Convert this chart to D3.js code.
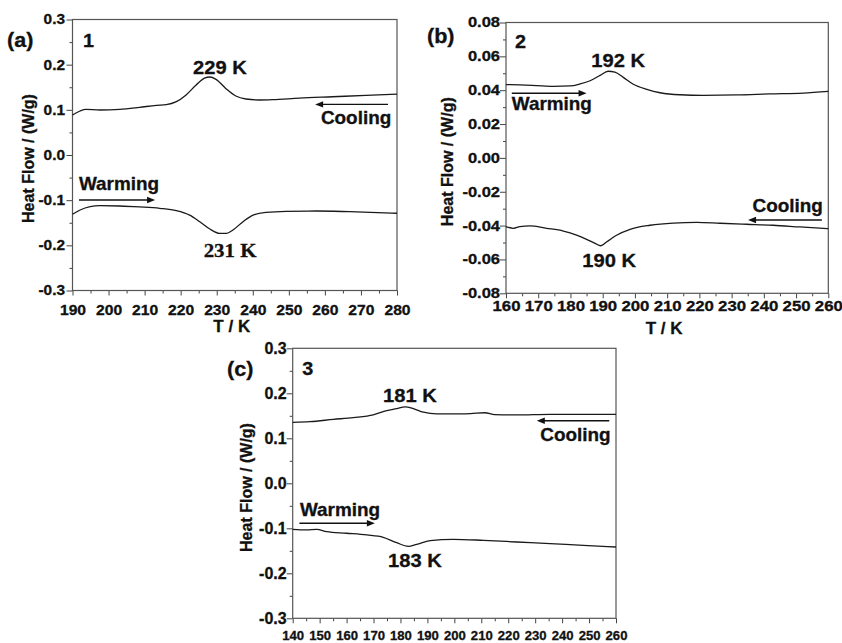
<!DOCTYPE html>
<html>
<head>
<meta charset="utf-8">
<script src="https://cdn.jsdelivr.net/npm/d3@7/dist/d3.min.js"></script>
<style>
  body { margin: 0; background: #fff; }
  text { font-family: "Liberation Sans", Arial, sans-serif; font-weight: bold; fill: #111; stroke: #111; stroke-width: 0.3px; }
</style>
</head>
<body>
<svg id="chart" width="842" height="643"></svg>
<script>
// ---- data: [T / K, heat flow / (W/g)] ----
const cooling1 = [
  [190, 0.0886], [192.1, 0.0974], [193.7, 0.101], [197.6, 0.0996], [203.1, 0.101],
  [208.6, 0.1055], [213.3, 0.110], [216, 0.1114], [218.8, 0.118], [221.5, 0.133],
  [224.3, 0.155], [226.6, 0.170], [228.1, 0.1727], [229.8, 0.1675], [232.5, 0.1475],
  [235.3, 0.1306], [238.1, 0.124], [241.8, 0.1218], [245.5, 0.1225], [252.9, 0.126],
  [262.1, 0.129], [271.4, 0.132], [280, 0.135]
]
const warming1 = [
  [190, -0.1313], [192.1, -0.1218], [194.9, -0.1144], [197.6, -0.1122], [203.1, -0.1129],
  [208.6, -0.115], [214.2, -0.118], [218.8, -0.123], [222.5, -0.133], [225.3, -0.1476],
  [228.1, -0.1638], [230.8, -0.1734], [232.7, -0.1734], [234.5, -0.166], [237.3, -0.1476],
  [240.1, -0.133], [243.7, -0.127], [249.3, -0.1246], [257.6, -0.124], [266.8, -0.1255],
  [280, -0.129]
]
const warming2 = [
  [160, 0.0433], [164.3, 0.0431], [169.5, 0.0427], [174.7, 0.0423], [179.9, 0.0425],
  [183, 0.0437], [186.1, 0.0456], [189.2, 0.0488], [191.7, 0.0512], [193.8, 0.0507],
  [196.4, 0.0476], [199.5, 0.0435], [203.7, 0.0405], [207.8, 0.0385], [214, 0.0373],
  [221.2, 0.037], [231.6, 0.0372], [241.9, 0.0378], [252.2, 0.0383], [260, 0.0393]
]
const cooling2 = [
  [160, -0.0406], [162.3, -0.0416], [164.3, -0.0406], [167.4, -0.0402], [172.6, -0.0416],
  [177.8, -0.0432], [181.9, -0.0456], [185, -0.0481], [187.6, -0.0505], [189.4, -0.0519],
  [191.2, -0.0497], [194.3, -0.0457], [198.5, -0.0422], [204.7, -0.0398], [211.9, -0.0385],
  [219.2, -0.0381], [226.4, -0.0386], [234.7, -0.0392], [242.9, -0.0398], [251.2, -0.0408],
  [260, -0.0418]
]
const cooling3 = [
  [140, 0.1356], [146.4, 0.137], [155.1, 0.142], [162.5, 0.146], [169.9, 0.152],
  [174.9, 0.1615], [178.6, 0.166], [181.7, 0.170], [184.8, 0.166], [188.5, 0.158],
  [193.5, 0.1545], [202.1, 0.1545], [206, 0.155], [211.3, 0.1568], [215, 0.1525],
  [223.1, 0.152], [235.5, 0.1533], [247.9, 0.1533], [260, 0.1533]
]
const warming3 = [
  [140, -0.1022], [145.2, -0.1037], [148.9, -0.1022], [152.6, -0.1075], [160, -0.111],
  [167.5, -0.1148], [173.6, -0.12], [178.6, -0.132], [182.9, -0.14], [186, -0.1356],
  [191, -0.1275], [199.6, -0.1244], [210.8, -0.1267], [223.1, -0.1304], [235.5, -0.1342],
  [247.9, -0.1378], [260, -0.1416]
]

// ---- tick labels ----
const xTicks1 = [190, 200, 210, 220, 230, 240, 250, 260, 270, 280]
const xTicks2 = [160, 170, 180, 190, 200, 210, 220, 230, 240, 250, 260]
const xTicks3 = [140, 150, 160, 170, 180, 190, 200, 210, 220, 230, 240, 250, 260]
const yTicks13 = [-0.3, -0.2, -0.1, 0.0, 0.1, 0.2, 0.3]
const yTicks2 = [-0.08, -0.06, -0.04, -0.02, 0.00, 0.02, 0.04, 0.06, 0.08]

const FONT = '"Liberation Sans", Arial, sans-serif'
const svg = d3.select('#chart')

function stretchText (sel, s) {
  sel.attr('transform', function () {
    const x = +this.getAttribute('x') || 0
    return `translate(${x},0) scale(${s},1) translate(${-x},0)`
  })
}

const panels = [
  {
    tag: '(a)', num: '1', left: 72.5, top: 19.5, width: 324.5, height: 271,
    xDomain: [190, 280], yDomain: [-0.3, 0.3], xTicks: xTicks1, yTicks: yTicks13, yDigits: 1,
    xFont: 14, xPad: 9.5, xStretch: 1.12, yFont: 14, yPad: 1.5, yStretch: 1.1,
    showXTitle: true,
    series: [cooling1, warming1],
    tagPos: [7, 47], numPos: [192.9, 0.239], yTitle: [34, 158.5],
    peaks: [
      { text: '229 K', at: [230.9, 0.179], serif: false },
      { text: '231 K', at: [233.7, -0.226], serif: true }
    ],
    cool: { label: [258.9, 0.0686], anchor: 'start', arrow: [277.5, 257.3, 0.112] },
    warm: { label: [191.8, -0.0775], anchor: 'start', arrow: [191.8, 212.9, -0.0996] }
  },
  {
    tag: '(b)', num: '2', left: 506, top: 22.5, width: 322.3, height: 270.8,
    xDomain: [160, 260], yDomain: [-0.08, 0.08], xTicks: xTicks2, yTicks: yTicks2, yDigits: 2,
    xFont: 14, xPad: 3, xStretch: 1.2, yFont: 14, yPad: 0, yStretch: 1.18,
    showXTitle: true,
    series: [warming2, cooling2],
    tagPos: [427, 43], numPos: [162.8, 0.065], yTitle: [453, 161.7],
    peaks: [
      { text: '192 K', at: [194.8, 0.0539], serif: false },
      { text: '190 K', at: [192.0, -0.0642], serif: false }
    ],
    cool: { label: [258.3, -0.0318], anchor: 'end', arrow: [258.0, 235.1, -0.0367] },
    warm: { label: [161.8, 0.0283], anchor: 'start', arrow: [161.8, 185.0, 0.0382] }
  },
  {
    tag: '(c)', num: '3', left: 292.7, top: 348.3, width: 323.3, height: 270,
    xDomain: [140, 260], yDomain: [-0.3, 0.3], xTicks: xTicks3, yTicks: yTicks13, yDigits: 1,
    xFont: 12.5, xPad: 8, xStretch: 1.05, yFont: 16, yPad: 0, yStretch: 1.0,
    showXTitle: false,
    series: [cooling3, warming3],
    tagPos: [227, 376], numPos: [143.5, 0.241], yTitle: [252, 487.5],
    peaks: [
      { text: '181 K', at: [183.5, 0.181], serif: false },
      { text: '183 K', at: [185.4, -0.185], serif: false }
    ],
    cool: { label: [258.0, 0.0947], anchor: 'end', arrow: [257.5, 230.6, 0.139] },
    warm: { label: [142.7, -0.0727], anchor: 'start', arrow: [142.5, 170.5, -0.0889] }
  }
]

panels.forEach(renderPanel)

function renderPanel (p) {
  const x = d3.scaleLinear().domain(p.xDomain).range([p.left, p.left + p.width])
  const y = d3.scaleLinear().domain(p.yDomain).range([p.top + p.height, p.top])
  const g = svg.append('g')

  // minor ticks
  const xStep = p.xTicks[1] - p.xTicks[0]
  const yStep = p.yTicks[1] - p.yTicks[0]
  const xMinor = p.xTicks.slice(0, -1).map(d => d + xStep / 2)
  const yMinor = p.yTicks.slice(0, -1).map(d => d + yStep / 2)

  g.append('g')
    .attr('transform', `translate(0,${p.top + p.height})`)
    .call(d3.axisBottom(x).tickValues(xMinor).tickSize(3).tickFormat(''))
    .call(a => a.select('.domain').remove())
  g.append('g')
    .attr('transform', `translate(${p.left},0)`)
    .call(d3.axisLeft(y).tickValues(yMinor).tickSize(3).tickFormat(''))
    .call(a => a.select('.domain').remove())

  const xAxis = g.append('g')
    .attr('transform', `translate(0,${p.top + p.height})`)
    .call(d3.axisBottom(x).tickValues(p.xTicks).tickSize(5).tickPadding(p.xPad).tickFormat(d => d))
  xAxis.select('.domain').remove()
  xAxis.attr('font-family', FONT).attr('font-size', p.xFont).attr('font-weight', 'bold')
  xAxis.selectAll('text').call(stretchText, p.xStretch)

  const yAxis = g.append('g')
    .attr('transform', `translate(${p.left},0)`)
    .call(d3.axisLeft(y).tickValues(p.yTicks).tickSize(6).tickPadding(p.yPad).tickFormat(d => d.toFixed(p.yDigits)))
  yAxis.select('.domain').remove()
  yAxis.attr('font-family', FONT).attr('font-size', p.yFont).attr('font-weight', 'bold')
  yAxis.selectAll('text').call(stretchText, p.yStretch)

  g.selectAll('.tick line').attr('stroke', '#444').attr('stroke-width', 1)

  g.append('rect')
    .attr('x', p.left).attr('y', p.top)
    .attr('width', p.width).attr('height', p.height)
    .attr('fill', 'none').attr('stroke', '#555').attr('stroke-width', 1.2)

  const line = d3.line()
    .x(d => x(d[0]))
    .y(d => y(d[1]))
    .curve(d3.curveMonotoneX)

  g.selectAll('path.curve')
    .data(p.series)
    .join('path')
    .attr('class', 'curve')
    .attr('d', line)
    .attr('fill', 'none')
    .attr('stroke', '#1a1a1a')
    .attr('stroke-width', 1.3)

  // titles
  g.append('text')
    .attr('transform', `translate(${p.yTitle[0]},${p.yTitle[1]}) rotate(-90)`)
    .attr('text-anchor', 'middle')
    .attr('font-size', 16)
    .text('Heat Flow / (W/g)')

  if (p.showXTitle) {
    g.append('text')
      .attr('x', p.left + p.width / 2 - 3)
      .attr('y', p.top + p.height + 41)
      .attr('text-anchor', 'middle')
      .attr('font-size', 17)
      .text('T / K')
  }

  g.append('text')
    .attr('x', p.tagPos[0]).attr('y', p.tagPos[1])
    .attr('font-size', 20)
    .text(p.tag)
    .call(stretchText, 1.08)

  g.append('text')
    .attr('x', x(p.numPos[0])).attr('y', y(p.numPos[1]))
    .attr('font-size', 18)
    .text(p.num)
    .call(stretchText, 1.1)

  p.peaks.forEach(pk => {
    g.append('text')
      .attr('x', x(pk.at[0])).attr('y', y(pk.at[1]))
      .attr('text-anchor', 'middle')
      .attr('font-size', pk.serif ? 19 : 18)
      .style('font-family', pk.serif ? '"Liberation Serif", "Times New Roman", serif' : FONT)
      .text(pk.text)
      .call(stretchText, pk.serif ? 1.1 : 1.12)
  })

  const labels = [
    { text: 'Cooling', cfg: p.cool },
    { text: 'Warming', cfg: p.warm }
  ]
  labels.forEach(l => {
    g.append('text')
      .attr('x', x(l.cfg.label[0])).attr('y', y(l.cfg.label[1]))
      .attr('text-anchor', l.cfg.anchor)
      .attr('font-size', 17.5)
      .text(l.text)
      .call(stretchText, 1.08)
    drawArrow(g, x(l.cfg.arrow[0]), x(l.cfg.arrow[1]), y(l.cfg.arrow[2]))
  })
}

function drawArrow (g, x0, x1, yy) {
  const dir = x1 > x0 ? 1 : -1
  g.append('line')
    .attr('x1', x0).attr('x2', x1 - dir * 5)
    .attr('y1', yy).attr('y2', yy)
    .attr('stroke', '#111').attr('stroke-width', 1.4)
  g.append('path')
    .attr('d', `M${x1},${yy} L${x1 - dir * 8},${yy - 3.2} L${x1 - dir * 8},${yy + 3.2} Z`)
    .attr('fill', '#111')
}
</script>
</body>
</html>
